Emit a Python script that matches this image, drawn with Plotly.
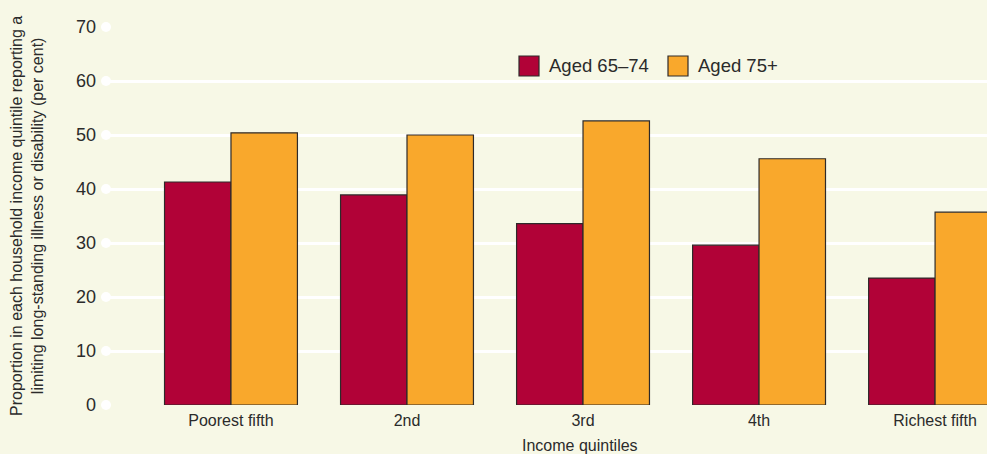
import plotly.graph_objects as go

categories = ["Poorest fifth", "2nd", "3rd", "4th", "Richest fifth"]
aged_65_74 = [41.3, 38.9, 33.6, 29.6, 23.5]
aged_75_plus = [50.4, 50.0, 52.6, 45.6, 35.7]
series_names = ["Aged 65\u201374", "Aged 75+"]
y_ticks = [0, 10, 20, 30, 40, 50, 60, 70]

BG = "#f7f8e6"
CRIMSON = "#b10237"
ORANGE = "#f9a82c"
OUTLINE = "#2e2a2a"
TXT = "#2b2b2b"
FONT = "Liberation Sans, Arial, sans-serif"

W, H = 987, 454
ML, MR, MT, MB = 106, 0, 27, 49
PW = W - ML - MR
PH = H - MT - MB
Y_RANGE = [0, 70]

fig = go.Figure()
for name, vals, col in [(series_names[0], aged_65_74, CRIMSON), (series_names[1], aged_75_plus, ORANGE)]:
    fig.add_trace(go.Bar(name=name, x=list(range(len(categories))), y=vals,
                         marker=dict(color=col, line=dict(color=OUTLINE, width=1.2)),
                         showlegend=False))

shapes = []
# white dots at the start of each gridline (paper coords derived from the axis range)
for t in y_ticks:
    yp = (t - Y_RANGE[0]) / (Y_RANGE[1] - Y_RANGE[0])
    shapes.append(dict(type="circle", xref="paper", yref="paper", xsizemode="pixel", ysizemode="pixel",
                       xanchor=0, yanchor=yp, x0=-5, x1=5, y0=-5, y1=5,
                       fillcolor="white", line=dict(width=0), layer="above"))

# manual legend (larger swatches like the reference)
def px_x(p):
    return (p - ML) / PW

def px_y(p):
    return 1 - (p - MT) / PH

legend_items = [(series_names[0], CRIMSON, 519), (series_names[1], ORANGE, 668)]
annotations = []
for name, col, x0 in legend_items:
    shapes.append(dict(type="rect", xref="paper", yref="paper",
                       x0=px_x(x0), x1=px_x(x0 + 20), y0=px_y(76), y1=px_y(56),
                       fillcolor=col, line=dict(color=OUTLINE, width=1.2), layer="above"))
    annotations.append(dict(text=name, xref="paper", yref="paper", x=px_x(x0 + 28), y=px_y(66),
                            xanchor="left", yanchor="middle", showarrow=False,
                            font=dict(size=18.5, color=TXT)))

annotations += [
    dict(text="Proportion in each household income quintile reporting a<br>limiting long-standing illness or disability (per cent)",
         xref="paper", yref="paper", x=px_x(0), y=0.5, xanchor="left", yanchor="middle",
         textangle=-90, showarrow=False, font=dict(size=16, color=TXT), xshift=6),
    dict(text="Income quintiles", xref="x", yref="paper", x=1.98, y=0, yanchor="top",
         yshift=-30, showarrow=False, font=dict(size=16, color=TXT)),
]

fig.update_layout(
    width=W, height=H,
    margin=dict(l=ML, r=MR, t=MT, b=MB),
    paper_bgcolor=BG, plot_bgcolor=BG,
    barmode="group", bargap=0.245, bargroupgap=0,
    font=dict(family=FONT, color=TXT, size=16),
    showlegend=False,
    xaxis=dict(range=[-0.71, 4.295], tickmode="array", tickvals=list(range(len(categories))),
               ticktext=categories, showgrid=False, zeroline=False, showline=False,
               tickfont=dict(size=16, color=TXT), ticks="", ticklabelstandoff=4),
    yaxis=dict(range=Y_RANGE, tickvals=y_ticks, showgrid=True, gridcolor="white", gridwidth=2.5,
               zeroline=False, showline=False, tickfont=dict(size=18, color=TXT), ticks="",
               ticklabelstandoff=9),
    shapes=shapes,
    annotations=annotations,
)

fig.write_html("out.html", config={"displayModeBar": False},
               post_script="document.body.style.margin='0';document.body.style.overflow='hidden';")
